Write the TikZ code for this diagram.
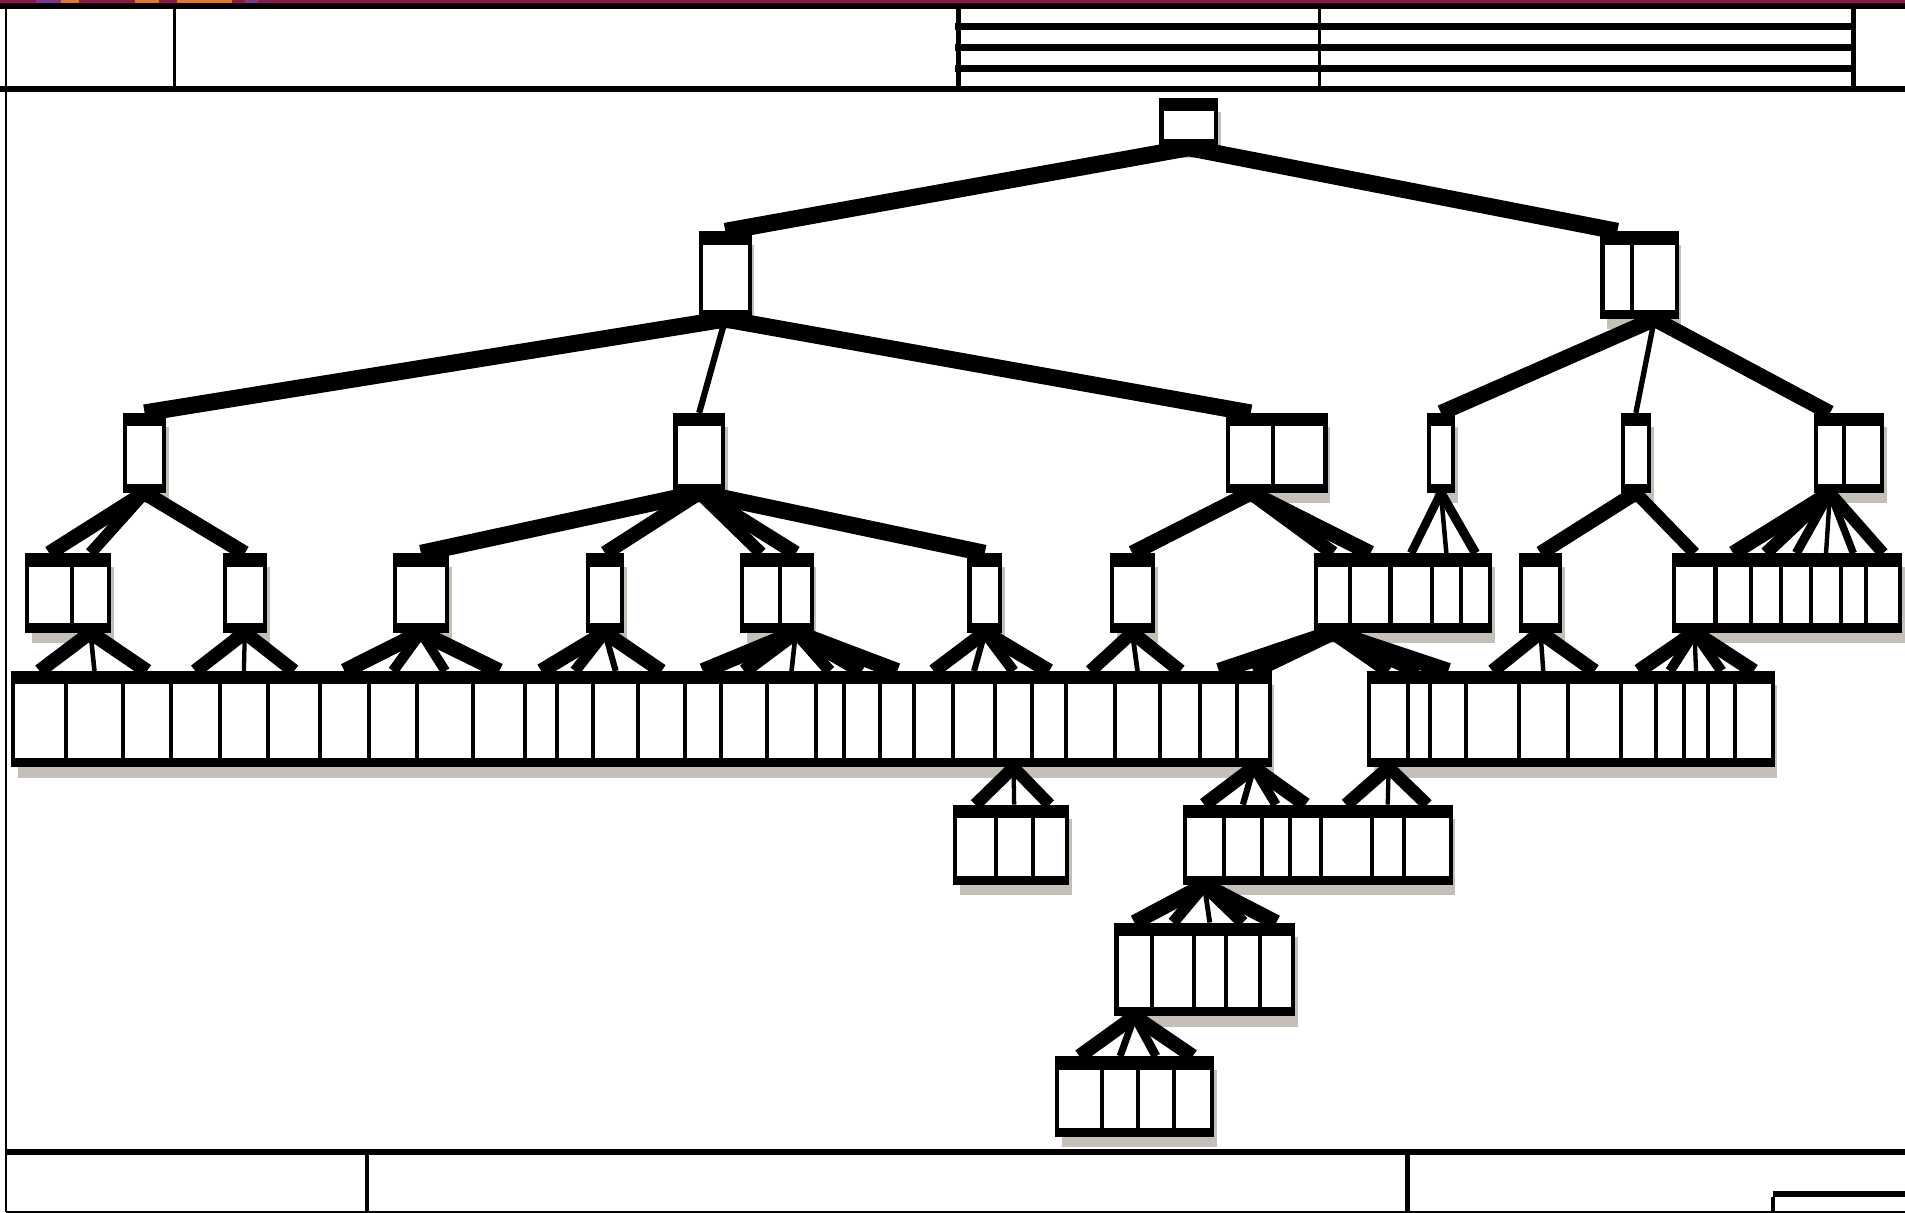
\documentclass[tikz,border=0pt]{standalone}
\usepackage{tikz}
\usetikzlibrary{calc,shadows}
\definecolor{cShade}{HTML}{C4C0B8}
\definecolor{cStrip}{HTML}{8B1A4B}
\definecolor{cOrange}{HTML}{E07A2E}
\definecolor{cPurple}{HTML}{7B3A8C}

% one row of boxes: y centre, height, list of name/left/right
\newcommand{\wbsrow}[3]{%
  \foreach \nm/\xl/\xr in {#3}{%
    \node[wbs,minimum width={(\xr-\xl)*0.1mm},minimum height={#2*0.1mm}] (\nm) at ({(\xl+\xr)/2},#1) {};
    \fill (\nm.north west) rectangle ([yshift=-1.1mm]\nm.north east);
    \fill (\nm.south west) rectangle ([yshift=0.75mm]\nm.south east);
  }}
% parent to child: fat when flat, thin when steep
\newcommand{\wbslink}[2]{%
  \draw let \p1=($(#2.north)-(#1.south)$),
    \n1={veclen(0.04*\x1,0.010*\y1)/veclen(0.01*\x1,0.01*\y1)} in
    [line width=\n1] (#1.south) -- (#2.north);}

\begin{document}
\begin{tikzpicture}[x=0.1mm,y=-0.1mm,
  wbs/.style={draw,line width=0.95pt,fill=white,inner sep=0pt,
    drop shadow={shadow xshift=0.4mm,shadow yshift=-1mm,fill=cShade,opacity=1}}]
  \useasboundingbox (0,0) rectangle (1568,998);
  % frame and title block
  \fill[cStrip] (0,0) rectangle (1568,2.4);
  \fill[cPurple] (30,0) rectangle (50,2.4);
  \fill[cOrange] (50,0) rectangle (65,2.4);
  \fill[cOrange] (111,0) rectangle (131,2.4);
  \fill[cOrange] (146,0) rectangle (191,2.4);
  \fill[cPurple] (202,0) rectangle (212,2.4);
  \fill (0,2.4) rectangle (1568,7);
  \fill (0,71) rectangle (1568,76);
  \draw[line width=0.6pt] (5,7) -- (5,998);
  \draw[line width=0.7pt] (144,7) -- (144,71);
  \draw[line width=1pt] (789,7) -- (789,71);
  \draw[line width=0.75pt] (1086,7) -- (1086,71);
  \draw[line width=1pt] (1525.5,7) -- (1525.5,71);
  \fill (786,19.2) rectangle (1527,24.7);
  \fill (786,36.5) rectangle (1527,42);
  \fill (786,53.5) rectangle (1527,59);
  \fill (5,946) rectangle (1568,951);
  \draw[line width=1pt] (302,951) -- (302,998);
  \draw[line width=1pt] (1158.5,951) -- (1158.5,998);
  \draw[line width=0.4pt] (5,997.5) -- (1568,997.5);
  \fill (1459,980) rectangle (1568,985.5);
  \draw[line width=0.85pt] (1459.5,985) -- (1459.5,998);

  % boxes, level by level
  \wbsrow{101}{38}{r/956/1001}
  \wbsrow{226.5}{69}{a1/577/617, a2/1319/1343.5, a3/1343.5/1380}
  \wbsrow{372.75}{62.5}{b1/103/135, b2/556/595, b3/1011/1048, b4/1048/1091,
    b5/1176/1196, b6/1336/1357, b7/1495/1517.5, b8/1517.5/1549}
  \wbsrow{488}{62}{c1/22/59, c2/59/90, c3/185/218, c4/325/368, c5/484/512,
    c6/611/642, c7/642/668, c8/798/823, c9/915/949, c10/1083/1111.5,
    c11/1111.5/1144.5, c12/1144.5/1178.5, c13/1178.5/1202.5, c14/1202.5/1226.5,
    c15/1252/1284, c16/1377.5/1412, c17/1412/1441, c18/1441/1466,
    c19/1466/1491, c20/1491/1515, c21/1515/1536, c22/1536/1564}
  \wbsrow{592}{76}{d1/11/54, d2/54/101.5, d3/101.5/140.5, d4/140.5/181,
    d5/181/220.5, d6/220.5/263.5, d7/263.5/303.5, d8/303.5/343.5,
    d9/343.5/389.5, d10/389.5/432.5, d11/432.5/458.5, d12/458.5/488,
    d13/488/525.5, d14/525.5/563.5, d15/563.5/593.5, d16/593.5/631.5,
    d17/631.5/671.5, d18/671.5/694.5, d19/694.5/724.5, d20/724.5/752.5,
    d21/752.5/784.5, d22/784.5/819, d23/819/849.5, d24/849.5/877.5,
    d25/877.5/917.5, d26/917.5/955, d27/955/988, d28/988/1018.5,
    d29/1018.5/1045, d30/1127/1159, d31/1159/1177, d32/1177/1207,
    d33/1207/1250, d34/1250/1290.5, d35/1290.5/1334.5, d36/1334.5/1363,
    d37/1363/1386, d38/1386/1406, d39/1406/1428, d40/1428/1459}
  \wbsrow{695.5}{63}{e1/786/819.5, e2/819.5/850, e3/850/878,
    e4/975/1007.5, e5/1007.5/1038.5, e6/1038.5/1062, e7/1062/1087,
    e8/1087/1129, e9/1129/1155.5, e10/1155.5/1194}
  \wbsrow{798}{74}{f1/919/948.5, f2/948.5/982.5, f3/982.5/1009,
    f4/1009/1037, f5/1037/1064}
  \wbsrow{902.5}{63}{g1/870/907, g2/907/937, g3/937/966, g4/966/997.5}

  % connectors
  \foreach \c in {a1,a2} {\wbslink{r}{\c}}
  \foreach \c in {b1,b2,b3} {\wbslink{a1}{\c}}
  \foreach \c in {b5,b6,b7} {\wbslink{a3}{\c}}
  \foreach \c in {c1,c2,c3} {\wbslink{b1}{\c}}
  \foreach \c in {c4,c5,c6,c7,c8} {\wbslink{b2}{\c}}
  \foreach \c in {c9,c10,c11} {\wbslink{b3}{\c}}
  \foreach \c in {c12,c13,c14} {\wbslink{b5}{\c}}
  \foreach \c in {c15,c16} {\wbslink{b6}{\c}}
  \foreach \c in {c17,c18,c19,c20,c21,c22} {\wbslink{b7}{\c}}
  \foreach \c in {d1,d2,d3} {\wbslink{c2}{\c}}
  \foreach \c in {d4,d5,d6} {\wbslink{c3}{\c}}
  \foreach \c in {d7,d8,d9,d10} {\wbslink{c4}{\c}}
  \foreach \c in {d11,d12,d13,d14} {\wbslink{c5}{\c}}
  \foreach \c in {d15,d16,d17,d18,d19,d20} {\wbslink{c7}{\c}}
  \foreach \c in {d21,d22,d23,d24} {\wbslink{c8}{\c}}
  \foreach \c in {d25,d26,d27} {\wbslink{c9}{\c}}
  \foreach \c in {d28,d29,d30,d31,d32} {\wbslink{c10}{\c}}
  \foreach \c in {d33,d34,d35} {\wbslink{c15}{\c}}
  \foreach \c in {d36,d37,d38,d39,d40} {\wbslink{c16}{\c}}
  \foreach \c in {e1,e2,e3} {\wbslink{d23}{\c}}
  \foreach \c in {e4,e5,e6,e7} {\wbslink{d29}{\c}}
  \foreach \c in {e8,e9,e10} {\wbslink{d30}{\c}}
  \foreach \c in {f1,f2,f3,f4,f5} {\wbslink{e4}{\c}}
  \foreach \c in {g1,g2,g3,g4} {\wbslink{f1}{\c}}
\end{tikzpicture}
\end{document}
